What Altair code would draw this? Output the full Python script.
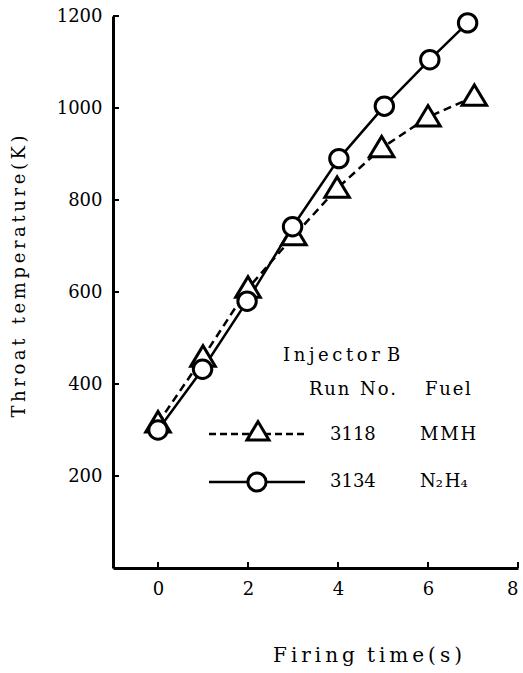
import altair as alt
import pandas as pd

# ---- data ----
time_mmh = [0, 1, 2, 3.02, 3.98, 4.97, 6.0, 7.03]
temp_mmh = [315, 458, 608, 722, 825, 913, 980, 1025]
time_n2h4 = [0, 0.99, 1.98, 2.99, 4.02, 5.03, 6.04, 6.88]
temp_n2h4 = [300, 432, 580, 742, 890, 1004, 1105, 1185]
x_ticks = [0, 2, 4, 6, 8]
y_ticks = [200, 400, 600, 800, 1000, 1200]

FONT = "DejaVu Serif"
W, H = 405, 552

df_mmh = pd.DataFrame({"t": time_mmh, "T": temp_mmh})
df_n2h4 = pd.DataFrame({"t": time_n2h4, "T": temp_n2h4})

sp = "\u2009"
hs = "\u200a"
ytitle = sp.join(list("Throat")) + sp * 4 + sp.join(list("temperature(K)"))
xtitle = sp.join(list("Firing")) + sp * 3 + sp.join(list("time(s)"))

xscale = alt.Scale(domain=[-1, 8], nice=False, zero=False)
yscale = alt.Scale(domain=[0, 1200], nice=False, zero=False)

xaxis = alt.Axis(values=x_ticks, format="d", ticks=False, grid=False, domainColor="black",
                 domainWidth=3, labelFont=FONT, labelFontSize=18, labelColor="black",
                 labelPadding=12, title=xtitle, titleFont=FONT, titleFontSize=20,
                 titleFontWeight="normal", titleColor="black", titleX=254, titleY=87,
                 titleAlign="center", titleBaseline="middle")
yaxis = alt.Axis(values=y_ticks, format="d", ticks=False, grid=False, domainColor="black",
                 domainWidth=3, labelFont=FONT, labelFontSize=18, labelColor="black",
                 labelPadding=11, title=ytitle, titleFont=FONT, titleFontSize=18,
                 titleFontWeight="normal", titleColor="black", titleX=-94, titleY=260,
                 titleAngle=270, titleAlign="center", titleBaseline="middle")

x = alt.X("t:Q", scale=xscale, axis=xaxis)
y = alt.Y("T:Q", scale=yscale, axis=yaxis)

tri_shape = "M-1,0.72L0,-0.95L1,0.72Z"
TRI_SIZE = 600
CIR_SIZE = 340

line_mmh = alt.Chart(df_mmh).mark_line(color="black", strokeWidth=2.5,
                                        strokeDash=[8, 5]).encode(x=x, y=y)
line_n2h4 = alt.Chart(df_n2h4).mark_line(color="black", strokeWidth=2.5).encode(x=x, y=y)
pts_mmh = alt.Chart(df_mmh).mark_point(shape=tri_shape, size=TRI_SIZE, filled=False,
                                       fill="white", fillOpacity=1, stroke="black",
                                       strokeWidth=3, opacity=1).encode(x=x, y=y)
pts_n2h4 = alt.Chart(df_n2h4).mark_point(shape="circle", size=CIR_SIZE, filled=False,
                                         fill="white", fillOpacity=1, stroke="black",
                                         strokeWidth=3, opacity=1).encode(x=x, y=y)

# inward tick marks
xt = alt.Chart(pd.DataFrame({"t": x_ticks})).mark_rule(color="black", strokeWidth=2).encode(
    x=x, y=alt.value(H), y2=alt.value(H - 6))
yt = alt.Chart(pd.DataFrame({"T": y_ticks})).mark_rule(color="black", strokeWidth=2).encode(
    y=y, x=alt.value(0), x2=alt.value(6))

# legend (annotation)
def txt(s, px, py, align="left", size=18):
    return alt.Chart(pd.DataFrame({"s": [s]})).mark_text(
        font=FONT, fontSize=size, color="black", align=align, baseline="middle").encode(
        x=alt.value(px), y=alt.value(py), text="s:N")

leg = [
    txt(sp.join(list("Injector")) + sp * 2 + "B", 170, 340),
    txt(hs.join(list("Run")) + sp * 3 + hs.join(list("No.")), 196, 374),
    txt(hs.join(list("Fuel")), 312, 374),
    txt("3118", 217, 419),
    txt(hs.join(list("MMH")), 307, 419),
    txt("3134", 217, 466),
    txt("N\u2082" + hs + "H\u2084", 307, 466),
    alt.Chart(pd.DataFrame({"a": [0]})).mark_rule(color="black", strokeWidth=2.5,
                                                   strokeDash=[7, 4]).encode(
        x=alt.value(96), x2=alt.value(193), y=alt.value(418)),
    alt.Chart(pd.DataFrame({"a": [0]})).mark_rule(color="black", strokeWidth=2.5).encode(
        x=alt.value(96), x2=alt.value(192), y=alt.value(466)),
    alt.Chart(pd.DataFrame({"a": [0]})).mark_point(shape=tri_shape, size=480, fill="white",
                                                   fillOpacity=1, stroke="black",
                                                   strokeWidth=3, opacity=1).encode(
        x=alt.value(145), y=alt.value(416)),
    alt.Chart(pd.DataFrame({"a": [0]})).mark_point(shape="circle", size=330, fill="white",
                                                   fillOpacity=1, stroke="black",
                                                   strokeWidth=3, opacity=1).encode(
        x=alt.value(144), y=alt.value(466)),
]

chart = alt.layer(line_mmh, line_n2h4, pts_mmh, pts_n2h4, xt, yt, *leg).properties(
    width=W, height=H,
    autosize=alt.AutoSizeParams(type="none"),
    padding={"left": 113, "top": 16, "right": 5, "bottom": 105},
    background="white",
).configure_view(stroke=None)

chart.save("out.html", embed_options={"renderer": "svg", "actions": False})
